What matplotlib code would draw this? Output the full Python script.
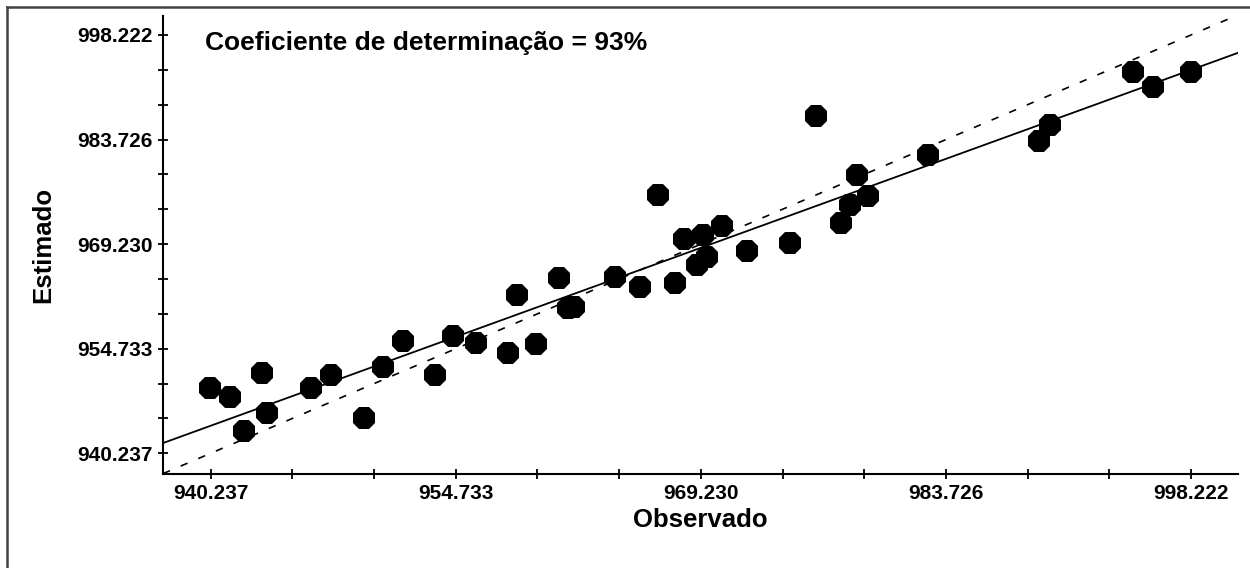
import matplotlib
matplotlib.use("Agg")
import matplotlib.pyplot as plt
from matplotlib.lines import Line2D
import numpy as np

plt.rcParams["font.family"] = ["Liberation Sans", "DejaVu Sans"]

observado = [940.196, 941.379, 943.254, 942.225, 943.585, 946.153, 947.336, 949.324,
             950.412, 951.595, 953.506, 954.553, 955.931, 957.807, 959.481, 958.339,
             960.859, 961.374, 961.729, 964.154, 965.651, 967.704, 966.715, 968.236,
             969.378, 970.455, 968.987, 969.579, 971.945, 974.524, 976.045, 977.506,
             978.056, 978.452, 979.139, 982.653, 989.255, 989.888, 994.815, 995.963,
             998.211]
estimado = [949.247, 948.083, 951.327, 943.328, 945.782, 949.247, 951.091, 945.089,
            952.242, 955.846, 951.091, 956.497, 955.485, 954.182, 955.388, 962.181,
            964.496, 960.379, 960.517, 964.718, 963.331, 963.803, 976.043, 969.944,
            970.498, 971.746, 966.339, 967.448, 968.280, 969.431, 986.994, 972.203,
            974.587, 978.815, 975.904, 981.588, 983.528, 985.746, 993.052, 990.972,
            993.135]

tick_labels = ["940.237", "954.733", "969.230", "983.726", "998.222"]
titulo = "Coeficiente de determinação = 93%"

major = [float(t) for t in tick_labels]
minor = []
for a, b in zip(major[:-1], major[1:]):
    minor += list(np.linspace(a, b, 4)[1:-1])

fig = plt.figure(figsize=(12.5, 5.68), dpi=100)
ax = fig.add_axes([163 / 1250, 1 - 474 / 568, (1238 - 163) / 1250, (474 - 16) / 568])

xlim = (937.42, 1001.0)
ylim = (937.37, 1000.85)

# 1:1 line (dashed) and fitted line (solid)
ax.plot(xlim, xlim, color="black", lw=1.2, linestyle=(0, (4.5, 7)), zorder=2)
coef = np.polyfit(observado, estimado, 1)
xx = np.array(xlim)
ax.plot(xx, np.polyval(coef, xx), color="black", lw=1.3, zorder=2)

ax.plot(observado, estimado, linestyle="none", marker="8", markersize=17,
        color="black", markeredgewidth=0, zorder=3)

ax.set_xlim(*xlim)
ax.set_ylim(*ylim)

ax.set_xticks(major)
ax.set_xticklabels(tick_labels)
ax.set_yticks(major)
ax.set_yticklabels(tick_labels)
ax.set_xticks(minor, minor=True)
ax.set_yticks(minor, minor=True)

for side in ["top", "right"]:
    ax.spines[side].set_visible(False)
for side in ["left", "bottom"]:
    ax.spines[side].set_linewidth(1.5)

ax.tick_params(which="both", direction="inout", length=7, width=1.3, color="black")
ax.tick_params(axis="both", which="major", labelsize=15, pad=4)
for lbl in ax.get_xticklabels() + ax.get_yticklabels():
    lbl.set_fontweight("bold")

ax.set_xlabel("Observado", fontsize=18.5, fontweight="bold", labelpad=3)
ax.set_ylabel("Estimado", fontsize=18.5, fontweight="bold", labelpad=16)

ax.text(205 / 1250, 1 - 43 / 568, titulo, transform=fig.transFigure,
        fontsize=19, fontweight="bold", ha="left", va="center")

# outer frame (only left and top edges visible)
fig.add_artist(Line2D([6.5 / 1250, 6.5 / 1250], [0, 1 - 6.5 / 568], transform=fig.transFigure,
                      color="#444444", lw=1.8))
fig.add_artist(Line2D([6.5 / 1250, 1], [1 - 6.5 / 568, 1 - 6.5 / 568], transform=fig.transFigure,
                      color="#444444", lw=1.8))

fig.savefig("out.png", dpi=100)
plt.close(fig)
